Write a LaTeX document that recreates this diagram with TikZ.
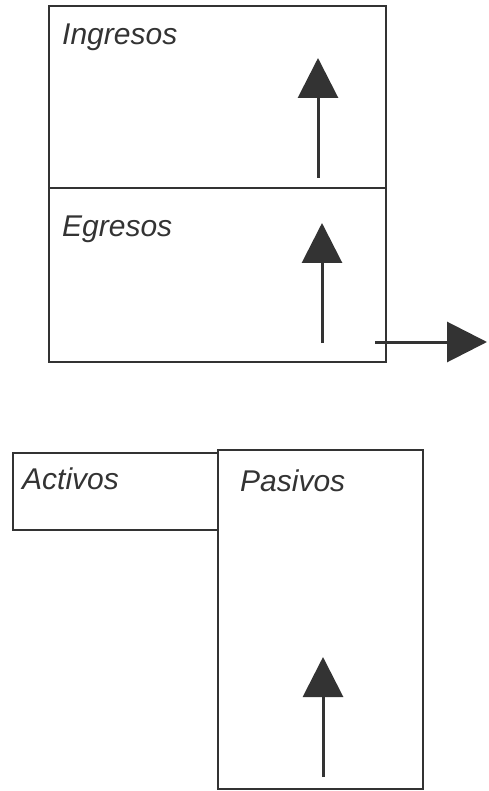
\documentclass[tikz,border=0pt]{standalone}
\usepackage{fontspec}
\setmainfont{Liberation Sans}
\usetikzlibrary{arrows.meta}
\definecolor{ink}{HTML}{333333}
\tikzset{
  box/.style={draw=ink, line width=2.5pt, inner sep=0pt},
  lbl/.style={anchor=base west, inner sep=0pt, text=ink, font=\fontsize{30}{32}\selectfont\itshape},
  flow/.style={draw=ink, line width=3pt, -{Triangle[width=40pt,length=40pt,fill=ink]}}
}
\begin{document}
\begin{tikzpicture}[x=1pt,y=-1pt]
\useasboundingbox (0,0) rectangle (488,791);
% top boxes
\node[box, minimum width=337pt, minimum height=182pt] (ing) at (217.5,97) {};
\node[box, minimum width=337pt, minimum height=174pt] (egr) at (217.5,275) {};
\node[lbl] (tIng) at (62,45) {Ingresos};
\node[lbl] (tEgr) at (62,237) {Egresos};
% arrows top
\coordinate (a1s) at (318,178);
\coordinate (a1e) at (318,58);
\draw[flow] (a1s) -- (a1e);
\coordinate (a2s) at (322,343);
\coordinate (a2e) at (322,223);
\draw[flow] (a2s) -- (a2e);
\coordinate (h1s) at (375,342);
\coordinate (h1e) at (487,342);
\draw[flow] (h1s) -- (h1e);
% bottom boxes
\node[box, minimum width=205pt, minimum height=77pt] (act) at (115.5,491.5) {};
\node[box, minimum width=205pt, minimum height=339pt] (pas) at (320.5,619.5) {};
\node[lbl] (tAct) at (22,489) {Activos};
\node[lbl] (tPas) at (240,491) {Pasivos};
\coordinate (a3s) at (323,777);
\coordinate (a3e) at (323,657);
\draw[flow] (a3s) -- (a3e);
\end{tikzpicture}
\end{document}
